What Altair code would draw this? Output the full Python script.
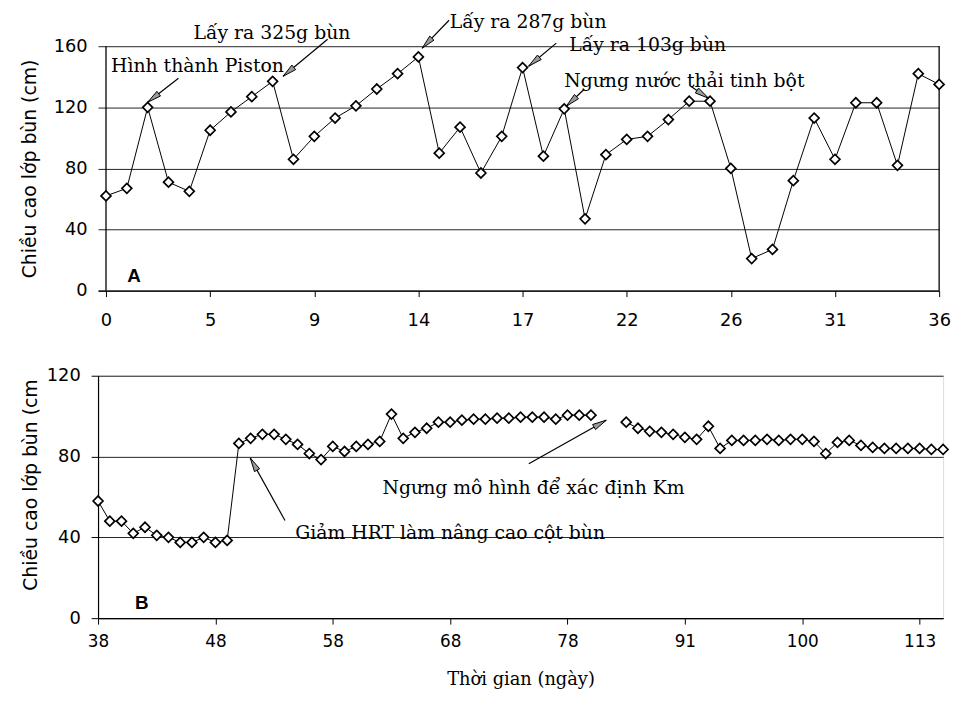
import math
import altair as alt
import pandas as pd

# ---------------- data ----------------
# Panel A: one sample per index, tick labels are days
a_values = [62, 67, 120, 71, 65, 105, 117, 127, 137, 86, 101, 113, 121, 132, 142,
            153, 90, 107, 77, 101, 146, 88, 119, 47, 89, 99, 101, 112, 124, 124,
            80, 21, 27, 72, 113, 86, 123, 123, 82, 142, 135]
a_tick_idx = [0, 5, 10, 15, 20, 25, 30, 35, 40]
a_tick_lab = ["0", "5", "9", "14", "17", "22", "26", "31", "36"]

# Panel B (None = no measurement)
b_values = [58, 48, 48, 42, 45, 41, 40, 37.5, 37.5, 40, 37.5, 38.5,
            86.5, 89, 91, 91, 88.5, 86, 81.5, 78.5, 85, 82.5, 85, 86, 87.5,
            101, 89, 92, 94, 97, 97, 98, 98.5, 98.5, 99, 99, 99.5, 99.5, 99.5,
            98.5, 100.5, 100.5, 100.5, None, None,
            97, 94, 92.5, 92, 91, 89.5, 88.5, 95, 84, 88, 88, 88, 88.5, 88,
            88.5, 88.5, 87.5, 81.5, 87, 88, 85.5, 84.5, 84, 84, 84, 84, 83.5, 83.5]
b_tick_idx = [0, 10, 20, 30, 40, 50, 60, 70]
b_tick_lab = ["38", "48", "58", "68", "78", "91", "100", "113"]

# annotations (anchor in data units: index, cm)
a_notes = ["Hình thành Piston", "Lấy ra 325g bùn", "Lấy ra 287g bùn",
           "Lấy ra 103g bùn", "Ngưng nước thải tinh bột"]
a_note_x = [0.24, 4.2, 16.5, 22.24, 22.0]
a_note_y = [148.2, 169.8, 177.0, 162.0, 138.4]
a_arrow_x = [3.48, 10.64, 16.47, 21.62, 22.96, 28.07]
a_arrow_y = [139.0, 164.6, 177.0, 162.0, 131.8, 133.8]
a_arrow_x2 = [2.0, 8.5, 15.18, 20.29, 22.1, 28.93]
a_arrow_y2 = [123.3, 140.3, 158.7, 146.9, 120.7, 125.9]

b_notes = ["Giảm HRT làm nâng cao cột bùn", "Ngưng mô hình để xác định Km"]
b_note_x = [16.8, 24.24]
b_note_y = [43.3, 65.5]
b_arrow_x = [15.93, 36.7]
b_arrow_y = [48.3, 76.4]
b_arrow_x2 = [12.97, 43.3]
b_arrow_y2 = [79.3, 98.0]

# ---------------- layout ----------------
WA, WB = 850, 854
HA, HB = 247, 245
A_XMIN, A_XMAX, A_YMAX = -0.382, 40, 160
B_XMIN, B_XMAX, B_YMAX = 0, 72, 120

ARROW = "M0,0L0.42,2L-0.42,2Z"
SANS = "DejaVu Sans"
SERIF = "DejaVu Serif"


def label_expr(idx, labs):
    expr = ""
    for i, l in zip(idx, labs):
        expr += f"datum.value == {i} ? '{l}' : "
    return expr + "''"


def arrows_df(x1, y1, x2, y2, sx, sy):
    rows = []
    for a, b, c, d in zip(x1, y1, x2, y2):
        dx = (c - a) * sx
        dy = -(d - b) * sy
        ang = math.degrees(math.atan2(dx, -dy)) % 360
        rows.append({"x": a, "y": b, "x2": c, "y2": d, "ang": ang})
    return pd.DataFrame(rows)


def panel(values, tick_idx, tick_lab, xmin, xmax, ymax, yvals, W, H, notes, nx, ny,
          ax1, ay1, ax2, ay2, letter, lx, ly, ytitle, ytitle_pad, ytitle_y,
          ytick, ylab_pad, xlab_size, xlab_pad, framed, xtitle=None):
    s = 0
    rows = []
    for i, v in enumerate(values):
        if v is None:
            s += 1
            continue
        rows.append({"i": i, "v": v, "seg": s})
    df = pd.DataFrame(rows)
    xs = alt.Scale(domain=[xmin, xmax], nice=False, zero=False)
    ys = alt.Scale(domain=[0, ymax], nice=False)
    xaxis = alt.Axis(values=tick_idx, labelExpr=label_expr(tick_idx, tick_lab),
                     grid=False, tickSize=6, tickColor="black", domainColor="black",
                     domainWidth=1.2, labelFont=SANS, labelFontSize=xlab_size,
                     labelColor="black", labelPadding=xlab_pad, labelFlush=False,
                     title=xtitle, titleFont=SERIF, titleFontSize=18,
                     titleFontWeight="normal", titleColor="black", titlePadding=21)
    yaxis_kw = dict(values=yvals, grid=True, gridColor="#222", gridWidth=1,
                    ticks=ytick > 0, tickSize=max(ytick, 1), tickColor="black",
                    domain=framed, domainColor="black",
                    domainWidth=1.2, labelFont=SANS, labelFontSize=18,
                    labelColor="black", labelPadding=ylab_pad, title=ytitle,
                    titleFont=SANS, titleFontSize=19, titleFontWeight="normal",
                    titleColor="black", titlePadding=ytitle_pad)
    if ytitle_y is not None:
        yaxis_kw["titleY"] = ytitle_y
    yaxis = alt.Axis(**yaxis_kw)
    base = alt.Chart(df)
    line = base.mark_line(color="black", strokeWidth=1).encode(
        x=alt.X("i:Q", scale=xs, axis=xaxis),
        y=alt.Y("v:Q", scale=ys, axis=yaxis),
        detail="seg:N")
    pts = base.mark_point(shape="diamond", filled=True, fill="white",
                          stroke="black", strokeWidth=1.7, size=100,
                          opacity=1).encode(x=alt.X("i:Q", scale=xs),
                                            y=alt.Y("v:Q", scale=ys))
    ndf = pd.DataFrame({"t": notes, "x": nx, "y": ny})
    txt = alt.Chart(ndf).mark_text(align="left", baseline="middle", font=SERIF,
                                   fontSize=19, color="black", dy=2).encode(
        x=alt.X("x:Q", scale=xs), y=alt.Y("y:Q", scale=ys), text="t:N")
    adf = arrows_df(ax1, ay1, ax2, ay2, W / (xmax - xmin), H / ymax)
    rule = alt.Chart(adf).mark_rule(color="black", strokeWidth=1.2).encode(
        x=alt.X("x:Q", scale=xs), y=alt.Y("y:Q", scale=ys), x2="x2:Q", y2="y2:Q")
    head = alt.Chart(adf).mark_point(shape=ARROW, filled=True, fill="#9a9a9a",
                                     stroke="black", strokeWidth=0.9, size=200,
                                     opacity=1).encode(
        x=alt.X("x2:Q", scale=xs), y=alt.Y("y2:Q", scale=ys),
        angle=alt.Angle("ang:Q", scale=None))
    ldf = pd.DataFrame({"t": [letter], "x": [lx], "y": [ly]})
    let = alt.Chart(ldf).mark_text(align="center", baseline="middle",
                                   font="Liberation Sans", fontWeight="bold",
                                   fontSize=19, color="black").encode(
        x=alt.X("x:Q", scale=xs), y=alt.Y("y:Q", scale=ys), text="t:N")
    layers = [line, pts, rule, head, txt, let]
    if not framed:
        # left axis line at the first sample and right border at the last one
        fdf = pd.DataFrame({"x": [0, xmax], "y": [0, 0], "y2": [ymax, ymax]})
        frame = alt.Chart(fdf).mark_rule(color="black", strokeWidth=1.3).encode(
            x=alt.X("x:Q", scale=xs), y=alt.Y("y:Q", scale=ys), y2="y2:Q")
        layers.insert(0, frame)
    ch = alt.layer(*layers).properties(width=W, height=H)
    if not framed:
        ch = ch.properties(view=alt.ViewBackground(stroke="transparent"))
    return ch


chartA = panel(a_values, a_tick_idx, a_tick_lab, A_XMIN, A_XMAX, A_YMAX,
               [0, 40, 80, 120, 160], WA, HA, a_notes, a_note_x, a_note_y,
               a_arrow_x, a_arrow_y, a_arrow_x2, a_arrow_y2, "A", 1.34, 9.8,
               "Chiều cao lớp bùn (cm)", 14, None, 0, 11, 18, 15, False)
chartB = panel(b_values, b_tick_idx, b_tick_lab, B_XMIN, B_XMAX, B_YMAX,
               [0, 40, 80, 120], WB, HB, b_notes, b_note_x, b_note_y,
               b_arrow_x, b_arrow_y, b_arrow_x2, b_arrow_y2, "B", 3.73, 7.4,
               "Chiều cao lớp bùn (cm", 6, 110, 7, 11, 17, 10, True,
               xtitle="Thời gian (ngày)")

chart = alt.vconcat(chartA, chartB, spacing=36).properties(
    padding={"left": 12, "top": 1, "right": 0, "bottom": 0}
).configure_view(stroke="black", strokeWidth=1.4).configure(background="white")

chart.save("out.html", embed_options={"renderer": "svg", "actions": False})
